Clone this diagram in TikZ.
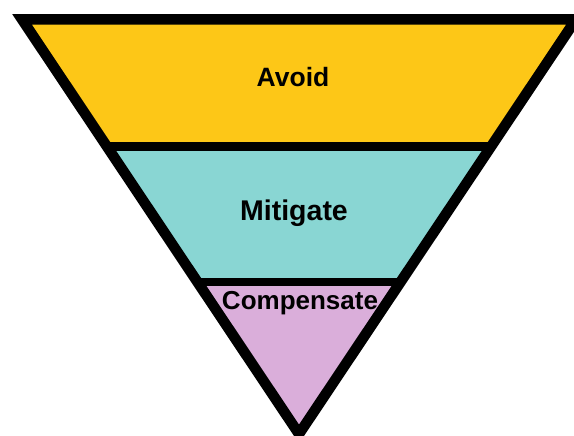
\documentclass[tikz,border=0pt]{standalone}
\usepackage{fontspec}
\setmainfont{Liberation Sans}
\definecolor{avoidc}{RGB}{253,199,23}
\definecolor{mitic}{RGB}{137,214,211}
\definecolor{compc}{RGB}{218,174,218}
\begin{document}
\begin{tikzpicture}[x=1pt,y=-1pt,
  lbl/.style={anchor=base,inner sep=0pt,font=\bfseries,text=black},
  edge/.style={line width=10.5pt,line join=miter,draw=black},
  divider/.style={draw=black}]
\useasboundingbox (0,0) rectangle (574,436);
% centerline triangle
\coordinate (tl) at (22.1,19.5);
\coordinate (tr) at (575.9,19.5);
\coordinate (tip) at (299,434);
\coordinate (d1l) at ({299-(434-146.5)*0.668},146.5);
\coordinate (d1r) at ({299+(434-146.5)*0.668},146.5);
\coordinate (d2l) at ({299-(434-282)*0.668},282);
\coordinate (d2r) at ({299+(434-282)*0.668},282);
\begin{scope}
  \clip (tl) -- (tr) -- (tip) -- cycle;
  \fill[avoidc] (0,0) rectangle (600,146.5);
  \fill[mitic] (0,146.5) rectangle (600,282);
  \fill[compc] (0,282) rectangle (600,450);
\end{scope}
\draw[divider,line width=9pt] (d1l) -- (d1r);
\draw[divider,line width=8pt] (d2l) -- (d2r);
\draw[edge] (tl) -- (tr) -- (tip) -- cycle;
\node[lbl] (avoid) at (293,87) {\fontsize{26.5}{30}\selectfont Avoid};
\node[lbl] (mitigate) at (294,221) {\fontsize{28.5}{32}\selectfont Mitigate};
\node[lbl] (compensate) at (300,309) {\fontsize{26}{30}\selectfont Compensate};
\end{tikzpicture}
\end{document}
